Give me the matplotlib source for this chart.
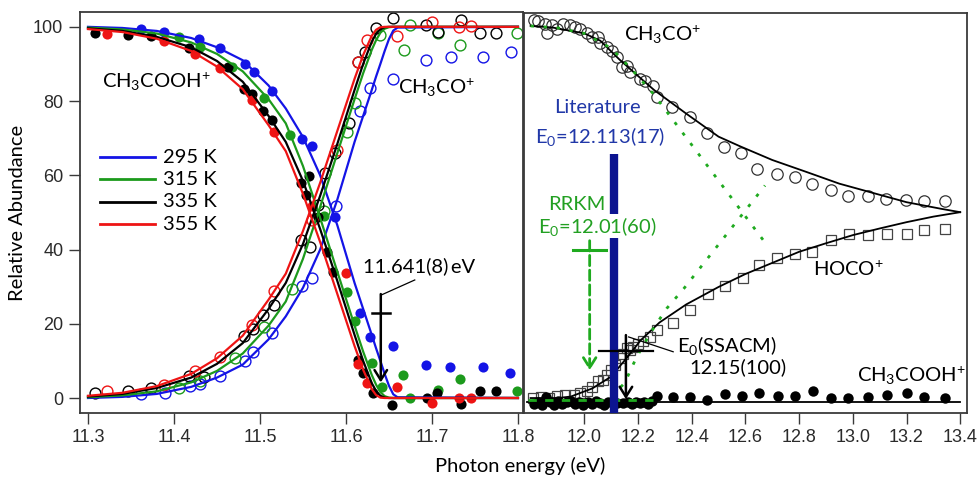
import matplotlib
matplotlib.use("Agg")
import matplotlib.pyplot as plt

plt.rcParams['font.family'] = ['Lato', 'DejaVu Sans']
plt.rcParams['mathtext.fontset'] = 'custom'
plt.rcParams['mathtext.rm'] = 'Lato'
plt.rcParams['mathtext.it'] = 'Lato:italic'
plt.rcParams['mathtext.bf'] = 'Lato:bold'
plt.rcParams['mathtext.default'] = 'rm'

# ---- left panel: CH3COOH+ (falling) and CH3CO+ (rising), four temperatures
temps = ['295 K', '315 K', '335 K', '355 K']
colors = ['#1414e6', '#1c9a1c', '#000000', '#ee1414']

x_fit_left = [11.30, 11.34, 11.38, 11.42, 11.45, 11.48, 11.51, 11.53, 11.55, 11.57, 11.59,
              11.61, 11.62, 11.63, 11.635, 11.64, 11.645, 11.65, 11.655, 11.66, 11.80]
fit_295 = [100, 99.7, 98.9, 97.0, 94.5, 91.0, 84.2, 78.0, 70.3, 60.0, 46.5, 31.0, 24.0, 17.0, 13.4, 10.0, 6.5, 3.3, 1.0, 0.2, 0]
fit_315 = [99.8, 99.3, 98.2, 95.8, 92.7, 88.0, 80.5, 74.0, 62.5, 48.5, 34.0, 19.5, 12.5, 6.2, 3.6, 1.6, 0.5, 0.1, 0, 0, 0]
fit_335 = [99.6, 98.9, 97.3, 94.5, 90.8, 85.2, 76.0, 69.0, 58.5, 45.5, 31.5, 17.0, 10.0, 4.0, 1.9, 0.6, 0.1, 0, 0, 0, 0]
fit_355 = [99.4, 98.6, 96.8, 93.5, 89.3, 83.2, 73.5, 66.5, 55.0, 42.0, 28.0, 14.0, 7.6, 2.4, 0.8, 0.1, 0, 0, 0, 0, 0]

# parent ion (filled)
p295_x = [11.362, 11.388, 11.429, 11.453, 11.483, 11.493, 11.514, 11.549, 11.560, 11.587, 11.616, 11.628, 11.655, 11.693, 11.721, 11.759, 11.791]
p295_y = [99.4, 98.7, 96.7, 94.3, 90.0, 87.8, 82.6, 69.8, 67.8, 48.7, 22.8, 16.5, 13.9, 8.9, 8.3, 8.4, 6.8]
p315_x = [11.406, 11.430, 11.468, 11.505, 11.535, 11.575, 11.601, 11.611, 11.630, 11.642, 11.666, 11.674, 11.707, 11.733, 11.799]
p315_y = [97.2, 94.5, 89.3, 80.9, 70.8, 49.0, 28.5, 20.8, 9.5, 3.0, 6.2, 0.0, 2.2, 5.0, 2.0]
p335_x = [11.308, 11.346, 11.373, 11.417, 11.463, 11.482, 11.491, 11.504, 11.514, 11.548, 11.554, 11.557, 11.568, 11.578,
          11.585, 11.614, 11.620, 11.632, 11.654, 11.694, 11.706, 11.734, 11.756, 11.775]
p335_y = [98.3, 97.9, 97.4, 94.2, 89.1, 83.2, 81.9, 77.4, 74.9, 57.9, 54.7, 59.7, 48.9, 39.4,
          34.0, 10.2, 6.7, 1.3, -1.9, -0.1, 1.3, -1.7, 2.0, 2.0]
p355_x = [11.322, 11.388, 11.424, 11.453, 11.491, 11.516, 11.560, 11.600, 11.614, 11.624, 11.659, 11.700, 11.732, 11.745]
p355_y = [98.0, 96.3, 92.7, 89.0, 80.3, 71.6, 51.6, 33.6, 9.1, 4.0, 3.0, -1.3, 0.1, 0.1]

# daughter ion (open)
d295_x = [11.362, 11.390, 11.419, 11.430, 11.454, 11.483, 11.492, 11.514, 11.549, 11.560, 11.588, 11.616, 11.628, 11.655, 11.693, 11.722, 11.759, 11.792]
d295_y = [1.0, 1.3, 3.3, 3.8, 5.9, 10.1, 12.3, 17.4, 30.2, 32.3, 51.6, 77.4, 83.5, 86.0, 91.1, 92.0, 91.8, 93.2]
d315_x = [11.406, 11.430, 11.471, 11.505, 11.537, 11.575, 11.601, 11.611, 11.640, 11.667, 11.674, 11.707, 11.733, 11.799]
d315_y = [2.8, 4.5, 10.9, 19.2, 29.3, 50.5, 71.8, 79.4, 97.8, 93.8, 100.5, 98.3, 95.1, 98.3]
d335_x = [11.308, 11.346, 11.373, 11.417, 11.435, 11.481, 11.492, 11.504, 11.516, 11.548, 11.558, 11.568, 11.576, 11.587,
          11.603, 11.614, 11.622, 11.635, 11.655, 11.693, 11.707, 11.734, 11.756, 11.775]
d335_y = [1.4, 2.0, 2.6, 6.0, 5.7, 16.7, 18.6, 22.4, 25.1, 42.6, 40.6, 52.0, 60.6, 66.0,
          74.0, 90.6, 93.3, 99.6, 102.3, 100.5, 98.6, 101.9, 98.3, 98.3]
d355_x = [11.322, 11.388, 11.424, 11.453, 11.491, 11.516, 11.560, 11.589, 11.614, 11.624, 11.659, 11.700, 11.732, 11.745]
d355_y = [1.9, 3.5, 7.4, 11.0, 19.7, 28.7, 48.0, 66.8, 90.6, 96.5, 97.4, 101.4, 99.9, 100.1]

fits = [fit_295, fit_315, fit_335, fit_355]
parents = [(p295_x, p295_y), (p315_x, p315_y), (p335_x, p335_y), (p355_x, p355_y)]
daughters = [(d295_x, d295_y), (d315_x, d315_y), (d335_x, d335_y), (d355_x, d355_y)]

# ---- right panel
co_x = [11.811, 11.829, 11.854, 11.860, 11.879, 11.897, 11.922, 11.947, 11.965, 11.984, 12.009, 12.028, 12.052, 12.058,
        12.083, 12.102, 12.121, 12.139, 12.158, 12.170, 12.207, 12.226, 12.257, 12.270, 12.326, 12.394, 12.456, 12.519,
        12.583, 12.645, 12.717, 12.784, 12.849, 12.917, 12.983, 13.056, 13.124, 13.197, 13.265, 13.343]
co_y = [102.1, 101.9, 101.0, 98.7, 100.8, 99.6, 101.0, 100.8, 100.1, 99.6, 98.7, 97.4, 97.4, 96.0,
        94.7, 93.8, 92.0, 89.3, 89.8, 88.0, 86.2, 85.7, 84.4, 81.2, 78.5, 75.8, 71.5, 67.8,
        66.2, 61.9, 60.6, 59.8, 57.8, 56.1, 54.6, 54.7, 53.8, 53.4, 53.2, 53.1]
hoco_x = [11.81, 11.84, 11.87, 11.90, 11.93, 11.96, 11.984, 12.01, 12.028, 12.052, 12.07, 12.083, 12.10, 12.114, 12.133,
          12.145, 12.158, 12.17, 12.183, 12.201, 12.22, 12.245, 12.27, 12.331, 12.394, 12.462, 12.524, 12.592, 12.651,
          12.717, 12.785, 12.849, 12.919, 12.984, 13.058, 13.126, 13.2, 13.265, 13.343]
hoco_y = [0, 0.3, 0, 0.5, 0.7, 0.8, 1.3, 2.0, 3.0, 4.5, 5.0, 6.2, 7.5, 8.9, 10.7,
          12.0, 13.4, 13.0, 13.8, 14.7, 15.5, 16.5, 18.3, 20.3, 23.7, 28.1, 30.3, 32.3, 35.8,
          37.7, 38.8, 39.4, 42.8, 44.3, 44.1, 44.4, 44.4, 45.4, 45.6]
par_x = [11.811, 11.826, 11.841, 11.856, 11.872, 11.887, 11.903, 11.918, 11.934, 11.95, 11.965, 11.98, 11.996, 12.012,
         12.028, 12.044, 12.059, 12.075, 12.090, 12.106, 12.12, 12.145, 12.161, 12.177, 12.192, 12.207, 12.222, 12.238,
         12.254, 12.270, 12.331, 12.394, 12.456, 12.524, 12.586, 12.649, 12.72, 12.785, 12.851, 12.918, 12.983, 13.058,
         13.126, 13.201, 13.265, 13.343]
par_y = [-1.5, -1.0, -1.8, 0.3, -1.2, -1.8, -0.8, -1.5, -1.2, -0.8, -1.6, -1.0, -1.8, -1.2,
         -1.5, -0.8, -1.4, -1.8, -1.2, -1.0, -1.4, -1.4, -1.0, -1.6, -1.2, -1.4, -1.0, -1.5,
         -0.8, 0.5, 0.4, 0.4, -0.5, 1.0, 0.6, 1.3, 0.6, 0.6, 1.9, 0.1, 0.1, 0.4,
         0.8, 1.3, 0.4, 0.1]

co_fit_x = [11.80, 11.88, 12.00, 12.06, 12.13, 12.20, 12.26, 12.38, 12.50, 12.58, 12.70, 12.83, 12.95, 13.08, 13.20, 13.33, 13.40]
co_fit_y = [100.5, 100.1, 98.5, 96.5, 91.5, 87.0, 83.2, 76.8, 70.6, 68.0, 64.3, 61.0, 57.9, 55.3, 52.9, 51.1, 50.2]
hoco_fit_x = [11.80, 11.90, 11.95, 12.03, 12.10, 12.16, 12.21, 12.28, 12.38, 12.50, 12.60, 12.70, 12.80, 12.90, 13.00, 13.10, 13.20, 13.30, 13.40]
hoco_fit_y = [0, 0, 0.4, 2.6, 5.8, 11.0, 15.6, 20.4, 25.3, 30.0, 33.5, 36.5, 39.5, 41.8, 44.0, 45.8, 47.5, 49.0, 50.2]
par_fit_x = [11.785, 13.40]
par_fit_y = [-1.0, -1.0]

# RRKM (green dotted)
rrkm_down_x = [11.80, 11.90, 12.00, 12.10, 12.18, 12.258, 12.667]
rrkm_down_y = [100.5, 100.0, 98.5, 94.5, 88.5, 82.1, 42.6]
rrkm_up_x = [12.10, 12.15, 12.195, 12.25, 12.307, 12.37, 12.673]
rrkm_up_y = [0.5, 4.0, 11.1, 18.0, 24.2, 29.5, 57.4]
rrkm_par_x = [11.79, 12.27]
rrkm_par_y = [-0.5, -0.5]

e0_lit = 12.11
e0_rrkm, e0_rrkm_err = 12.02, 0.062
e0_ssacm, e0_ssacm_err = 12.155, 0.1
e0_left, e0_left_err = 11.6405, 0.0105

SUP = '$^{\\!+}$'

fig = plt.figure(figsize=(9.77, 4.78), dpi=100)
ax1 = fig.add_axes([80 / 977, 1 - 412.7 / 478, 442.5 / 977, 400.7 / 478])
ax2 = fig.add_axes([523.5 / 977, 1 - 412.7 / 478, 443.2 / 977, 399.7 / 478])

for ax in (ax1, ax2):
    for s in ax.spines.values():
        s.set_color('#3a3a3a')
        s.set_linewidth(1.3)
    ax.tick_params(direction='out', length=8, width=1, color='#3a3a3a', labelsize=13,
                   labelcolor='#2a2a2a', pad=4)

for c, f, (px, py), (dx, dy) in zip(colors, fits, parents, daughters):
    ax1.plot(px, py, 'o', color=c, ms=7.3, mec='none', zorder=2)
    ax1.plot(dx, dy, 'o', mfc='none', mec=c, ms=7.8, mew=1.0, zorder=2)
    ax1.plot(x_fit_left, f, color=c, lw=1.6, zorder=3)
    ax1.plot(x_fit_left, [100 - v for v in f], color=c, lw=1.6, zorder=3)

# legend drawn by hand
for i, (c, t) in enumerate(zip(colors, temps)):
    yy = 0.638 - i * 0.0557
    ax1.plot([0.045, 0.169], [yy, yy], color=c, lw=2, transform=ax1.transAxes)
    ax1.text(0.187, yy, t, transform=ax1.transAxes, fontsize=14.5, va='center', ha='left')

ax1.text(11.316, 85.2, 'CH$_3$COOH' + SUP, fontsize=14.5, va='center', ha='left')
ax1.text(11.706, 83.6, 'CH$_3$CO' + SUP, fontsize=14.5, va='center', ha='center')
ax1.text(11.685, 35.6, '11.641(8)\u2009eV', fontsize=14.5, va='center', ha='center')
ax1.plot([11.6415, 11.680], [27.8, 31.8], color='black', lw=0.9)
ax1.plot([e0_left - e0_left_err, e0_left + e0_left_err], [22.8, 22.8], color='black', lw=1.8)
ax1.annotate('', xy=(e0_left, 4.2), xytext=(e0_left, 28.0),
             arrowprops=dict(arrowstyle='->,head_length=0.4,head_width=0.25', lw=1.8,
                             color='black', mutation_scale=18, shrinkA=0, shrinkB=0))

ax1.set_xlim(11.2907, 11.8053)
ax1.set_ylim(-3.96, 104.0)
ax1.set_xticks([11.3, 11.4, 11.5, 11.6, 11.7, 11.8])
ax1.set_yticks([0, 20, 40, 60, 80, 100])
plt.setp(ax1.get_xticklabels() + ax1.get_yticklabels(), fontfamily='Liberation Sans')

# right panel
ax2.plot(co_x, co_y, 'o', mfc='none', mec='#333333', ms=8.2, mew=0.9, zorder=2)
ax2.plot(hoco_x, hoco_y, 's', mfc='none', mec='#444444', ms=7.6, mew=0.9, zorder=2)
ax2.plot(par_x, par_y, 'o', color='black', ms=7.5, mec='none', zorder=2)
ax2.plot(co_fit_x, co_fit_y, color='black', lw=1.3, zorder=3)
ax2.plot(hoco_fit_x, hoco_fit_y, color='black', lw=1.3, zorder=3)
ax2.plot(par_fit_x, par_fit_y, color='black', lw=1.3, zorder=3)
ax2.plot(rrkm_down_x, rrkm_down_y, color='#1faa1f', lw=2, ls=(0, (1.2, 3.5)), zorder=3)
ax2.plot(rrkm_up_x, rrkm_up_y, color='#1faa1f', lw=2, ls=(0, (1.2, 3.5)), zorder=3)
ax2.plot(rrkm_par_x, rrkm_par_y, color='#1faa1f', lw=2, ls=(0, (3, 3)), zorder=3)

ax2.plot([e0_lit, e0_lit], [65.8, -4.0], color='#0c1490', lw=6, solid_capstyle='butt', zorder=4)

ax2.text(12.293, 98.1, 'CH$_3$CO' + SUP, fontsize=14.5, va='center', ha='center')
ax2.text(12.049, 78.4, 'Literature', fontsize=14.5, color='#2138a8', va='center', ha='center')
ax2.text(12.058, 70.6, 'E$_0$=12.113(17)', fontsize=14.5, color='#2138a8', va='center', ha='center')
ax2.text(11.971, 52.3, 'RRKM', fontsize=14.5, color='#22a022', va='center', ha='center', zorder=5,
         bbox=dict(facecolor='white', edgecolor='none', pad=0.5))
ax2.text(12.047, 46.4, 'E$_0$=12.01(60)', fontsize=14.5, color='#22a022', va='center', ha='center', zorder=5,
         bbox=dict(facecolor='white', edgecolor='none', pad=0.5))

ax2.plot([e0_rrkm - e0_rrkm_err, e0_rrkm + e0_rrkm_err], [40.1, 40.1], color='#1faa1f', lw=2.2, zorder=5)
ax2.annotate('', xy=(e0_rrkm, 7.5), xytext=(e0_rrkm, 42.5),
             arrowprops=dict(arrowstyle='->,head_length=0.4,head_width=0.25', lw=2, ls='--',
                             color='#1faa1f', mutation_scale=18, shrinkA=0, shrinkB=0), zorder=5)

ax2.plot([e0_ssacm - e0_ssacm_err, e0_ssacm + e0_ssacm_err], [12.7, 12.7], color='black', lw=1.6, zorder=5)
ax2.annotate('', xy=(e0_ssacm, -0.3), xytext=(e0_ssacm, 17.0),
             arrowprops=dict(arrowstyle='->,head_length=0.4,head_width=0.25', lw=1.8,
                             color='black', mutation_scale=18, shrinkA=0, shrinkB=0), zorder=5)
ax2.plot([12.165, 12.331], [16.5, 12.5], color='black', lw=0.9, zorder=5)
ax2.text(12.345, 14.3, 'E$_0$(SSACM)', fontsize=14.5, va='center', ha='left')
ax2.text(12.393, 8.4, '12.15(100)', fontsize=14.5, va='center', ha='left')
ax2.text(12.985, 34.8, 'HOCO' + SUP, fontsize=14.5, va='center', ha='center')
ax2.text(13.218, 5.9, 'CH$_3$COOH' + SUP, fontsize=14.5, va='center', ha='center')

ax2.set_xlim(11.7736, 13.4242)
ax2.set_ylim(-3.96, 104.0)
ax2.set_xticks([12.0, 12.2, 12.4, 12.6, 12.8, 13.0, 13.2, 13.4])
ax2.set_yticks([])
plt.setp(ax2.get_xticklabels(), fontfamily='Liberation Sans')

fig.text(520 / 977, 1 - 466 / 478, 'Photon energy (eV)', fontsize=14.5, ha='center', va='center')
fig.text(18 / 977, 1 - 213 / 478, 'Relative Abundance', fontsize=14.5, rotation=90, ha='center', va='center')

fig.savefig('out.png', dpi=100)
